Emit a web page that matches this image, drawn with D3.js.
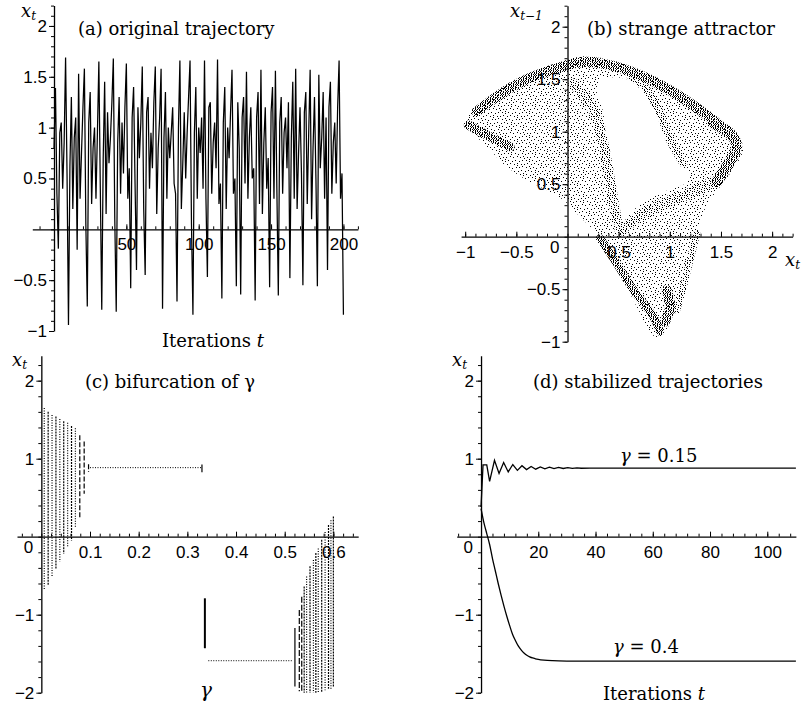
<!DOCTYPE html>
<html><head><meta charset="utf-8">
<script src="https://cdn.jsdelivr.net/npm/d3@7"></script>
<style>body{margin:0;background:#fff} svg{display:block}</style>
</head><body>
<script>
// ================= DATA =================
// (a) original trajectory x_t, t = 0..200
const trajA = [
 0.80,1.39,0.35,-0.19,0.95,1.05,0.40,0.85,1.69,0.55,
 -0.94,0.62,1.30,0.20,0.90,1.10,-0.20,1.53,0.30,0.75,
 1.20,1.58,0.05,-0.76,1.05,1.35,0.25,0.80,1.00,0.30,
 0.95,1.65,0.40,-0.79,0.70,1.45,0.15,1.15,0.65,0.90,
 1.25,1.68,0.10,-0.81,0.85,1.30,0.35,1.05,0.55,1.20,
 1.63,0.30,0.60,-0.58,1.10,1.40,0.45,-0.40,1.20,0.70,
 1.05,1.60,0.20,-0.45,1.15,1.30,0.40,0.95,0.60,1.25,
 1.60,0.15,0.80,1.10,1.58,-0.78,0.90,1.35,0.30,1.00,
 0.70,0.95,1.20,0.45,0.35,-0.71,1.00,1.66,0.20,0.65,
 1.15,0.50,0.95,1.30,1.66,0.05,-0.84,0.95,1.40,0.30,
 1.00,0.75,1.10,0.40,1.66,0.30,-0.47,1.20,1.25,0.35,
 0.85,1.05,0.60,1.67,0.25,0.45,-0.68,1.05,1.40,0.20,
 1.00,0.70,1.15,1.57,0.35,0.50,-0.56,1.25,0.80,-0.64,
 1.10,1.30,0.45,1.55,0.30,0.90,1.20,0.50,0.60,-0.70,
 1.10,1.35,0.25,1.57,0.15,0.85,1.20,0.40,0.70,-0.57,
 1.15,1.40,0.30,1.56,0.40,-0.65,1.05,1.30,0.35,0.95,
 1.10,0.60,1.25,-0.48,0.90,1.45,0.30,1.58,0.20,0.75,
 1.20,0.55,-0.55,1.15,1.35,0.25,0.95,1.57,0.10,0.80,
 1.30,0.50,-0.56,1.52,0.60,0.90,1.35,0.30,1.10,-0.40,
 1.20,1.45,0.35,0.85,1.05,0.45,1.20,1.66,0.30,0.55,
 -0.84
];
const ticksA_x = [50, 100, 150, 200];
const ticksA_y = [-1, -0.5, 0.5, 1, 1.5, 2];

// (b) strange attractor: outline of the point cloud (x_t, x_{t-1})
const attractorOutline = [
 [-1.00,1.096],[-0.888,1.238],[-0.725,1.365],[-0.529,1.476],[-0.334,1.572],[-0.138,1.635],
 [-0.008,1.683],[0.122,1.714],[0.253,1.714],[0.415,1.683],[0.578,1.635],[0.774,1.556],
 [0.969,1.460],[1.165,1.349],[1.360,1.206],[1.523,1.079],[1.637,0.984],[1.719,0.857],
 [1.686,0.746],[1.589,0.603],[1.491,0.476],[1.393,0.349],[1.311,0.191],[1.263,0.032],
 [1.214,-0.159],[1.149,-0.381],[1.083,-0.603],[1.018,-0.794],[0.937,-0.921],[0.872,-0.959],
 [0.790,-0.889],[0.709,-0.730],[0.611,-0.540],[0.513,-0.349],[0.415,-0.159],[0.318,0.000],
 [0.187,0.127],[0.057,0.254],[-0.041,0.349],[-0.204,0.444],[-0.399,0.540],[-0.595,0.667],
 [-0.758,0.826],[-0.888,0.953],[-0.986,1.048]
];
const attractorHole = [
 [0.318,1.492],[0.481,1.518],[0.644,1.476],[0.774,1.381],[0.855,1.238],[0.920,1.048],
 [1.002,0.857],[1.100,0.699],[1.197,0.588],[1.165,0.515],[0.969,0.438],[0.774,0.349],
 [0.611,0.222],[0.497,0.095],[0.448,0.286],[0.422,0.603],[0.383,0.921],[0.344,1.206],[0.285,1.397]
];
const bandOuterArc = [[-0.888,1.191],[-0.529,1.435],[-0.138,1.594],[0.187,1.667],[0.578,1.587],[0.969,1.413],[1.360,1.159],[1.621,0.953]];
const bandLeftEdge = [[-0.969,1.064],[-0.790,0.968],[-0.562,0.857]];
const bandRightTip = [[1.425,1.079],[1.589,0.984],[1.654,0.857],[1.556,0.667],[1.458,0.524]];
const bandBottomLeft = [[0.318,-0.016],[0.481,-0.254],[0.644,-0.508],[0.839,-0.762],[0.904,-0.904]];
const bandBottomKnot = [[0.969,-0.508],[1.002,-0.667],[0.953,-0.809]];
const bandBottomRight = [[1.263,0.032],[1.197,-0.222],[1.132,-0.476],[1.067,-0.698]];
const bandLower = [[0.513,0.064],[0.709,0.191],[0.937,0.318],[1.197,0.413],[1.425,0.524]];
const bandBeak = [[0.611,1.540],[0.774,1.397],[0.904,1.175],[1.002,0.921],[1.132,0.699]];
const bandDiagonal = [[0.057,1.460],[0.253,1.206],[0.350,0.889],[0.415,0.540],[0.481,0.159]];
const ticksB_x = [-1, -0.5, 0.5, 1, 1.5, 2];
const ticksB_y = [-1, -0.5, 0.5, 1, 1.5, 2];

// (c) bifurcation of gamma: columns of visited values
const bifLeftGamma  = [0.006,0.014,0.022,0.030,0.038,0.046,0.054,0.062,0.070,0.079,0.088,0.097];
const bifLeftTop    = [1.65,1.60,1.56,1.54,1.51,1.48,1.46,1.42,1.39,1.30,1.22,0.93];
const bifLeftBottom = [-0.69,-0.62,-0.52,-0.42,-0.32,-0.22,-0.14,-0.05,0.11,0.25,0.55,0.83];
const fixedHighGamma = [0.100, 0.330];
const fixedHighValue = 0.885;
const jumpGamma = 0.336, jumpTop = -0.79, jumpBottom = -1.43;
const fixedLowGamma = [0.343, 0.517];
const fixedLowValue = -1.59;
const bifRightGamma  = [0.521,0.530,0.535,0.540,0.545,0.552,0.559,0.564,0.569,0.576,0.583,0.590,0.595,0.600];
const bifRightTop    = [-1.17,-0.94,-0.77,-0.64,-0.51,-0.38,-0.30,-0.21,-0.15,-0.04,0.06,0.15,0.21,0.26];
const bifRightBottom = [-1.92,-1.98,-2.0,-2.0,-2.0,-2.0,-2.0,-2.0,-2.0,-2.0,-1.97,-1.95,-1.95,-1.93];
const ticksC_x = [0.1,0.2,0.3,0.4,0.5,0.6];
const ticksC_y = [-2,-1,1,2];

// (d) stabilized trajectories
const stab015_t = [0,0.7,2,3,4.7,6.3,7.9,9.5,11.1,12.7,14.3,15.9,17.5,19.1,20.7,22.3,23.9,25.5,27.1,28.7,30.3,31.9,33.5,35,38,45,110];
const stab015_x = [0.38,0.92,0.92,0.71,0.98,0.81,0.95,0.83,0.925,0.85,0.91,0.86,0.90,0.865,0.895,0.87,0.89,0.872,0.887,0.874,0.884,0.876,0.882,0.877,0.88,0.878,0.878];
const stab04_t = [0,1,2,3,4,5,6,7,8,9,10,11,12,13,14,15,16,17,18,19,20,22,25,30,35,110];
const stab04_x = [0.36,0.18,0.04,-0.10,-0.28,-0.44,-0.60,-0.75,-0.89,-1.02,-1.14,-1.25,-1.33,-1.40,-1.45,-1.49,-1.52,-1.54,-1.555,-1.565,-1.573,-1.583,-1.590,-1.594,-1.595,-1.595];
const ticksD_x = [20,40,60,80,100];
const ticksD_y = [-2,-1,1,2];

// ================= DRAWING =================
const W = 804, H = 710;
const SANS = "'Liberation Sans', Arial, sans-serif";
const SERIF = "'DejaVu Serif', serif";
const TICK_FS = 17, TEXT_FS = 18;
const svg = d3.select("body").append("svg").attr("width", W).attr("height", H);
svg.append("rect").attr("width", W).attr("height", H).attr("fill", "#fff");
const fmt = d3.format("");

const defs = svg.append("defs");
function stipple(id, n, size) {
  const p = defs.append("pattern").attr("id", id).attr("patternUnits", "userSpaceOnUse")
    .attr("width", size).attr("height", size);
  const g1 = 0.7548776662466927, g2 = 0.5698402909980532;
  for (let i = 0; i < n; i++) {
    const px = Math.floor(((0.31 + i * g1) % 1) * size), py = Math.floor(((0.17 + i * g2) % 1) * size);
    p.append("rect").attr("x", px).attr("y", py).attr("width", 1).attr("height", 1).attr("fill", "#000");
  }
}
stipple("stLight", 56, 24);
stipple("stMed", 125, 24);
stipple("stDense", 260, 24);

function axes(g, o) {
  const y0 = o.y(0), x0 = o.x(0);
  const xa = g.append("g").attr("transform", `translate(0,${y0})`);
  xa.call(d3.axisTop(o.x).tickValues(o.xMinor).tickSize(3).tickSizeOuter(0).tickFormat(""));
  xa.append("g").call(d3.axisTop(o.x).tickValues(o.xMajor).tickSize(5).tickSizeOuter(0).tickFormat(""))
    .call(s => s.select(".domain").remove());
  xa.append("g").call(d3.axisBottom(o.x).tickValues(o.xMajor).tickSize(0).tickPadding(9).tickFormat(fmt))
    .call(s => s.select(".domain").remove());
  const ya = g.append("g").attr("transform", `translate(${x0},0)`);
  ya.call(d3.axisLeft(o.y).tickValues(o.yMinor).tickSize(3).tickSizeOuter(0).tickFormat(""));
  ya.append("g").call(d3.axisLeft(o.y).tickValues(o.yMajor).tickSize(5).tickPadding(2).tickFormat(fmt))
    .call(s => s.select(".domain").remove());
  g.selectAll(".domain").attr("stroke", "#000").attr("stroke-width", 1.3);
  g.selectAll(".tick line").attr("stroke", "#000").attr("stroke-width", 1);
  g.selectAll(".tick text").attr("font-family", SANS).attr("font-size", TICK_FS).attr("fill", "#000");
  g.selectAll("g").attr("font-family", null).attr("font-size", null);
  if (o.zero) {
    g.append("text").attr("x", x0 - 8).attr("y", y0 + 16).attr("text-anchor", "end")
      .attr("font-family", SANS).attr("font-size", TICK_FS).text("0");
  }
}
function mathLabel(g, x, y, sub) {
  const t = g.append("text").attr("x", x).attr("y", y).attr("font-family", SERIF).attr("font-size", 18).attr("font-style", "italic");
  t.append("tspan").text("x");
  t.append("tspan").attr("dy", 3).attr("font-size", 12).text(sub);
}
function title(g, x, y, txt) {
  g.append("text").attr("x", x).attr("y", y).attr("font-family", SERIF).attr("font-size", TEXT_FS).text(txt);
}
const rangeStep = (a, b, s) => d3.range(Math.round(a / s), Math.round(b / s) + 1).map(k => +(k * s).toFixed(6));

// ---------- panel (a) ----------
{
  const g = svg.append("g");
  const x = d3.scaleLinear().domain([-15, 210]).range([32.3, 357.9]);
  const y = d3.scaleLinear().domain([-1, 2.2]).range([331, 5.6]);
  axes(g, { x, y, xMinor: rangeStep(-10, 210, 10), xMajor: ticksA_x, yMinor: rangeStep(-1, 2.2, 0.1), yMajor: ticksA_y });
  g.append("path").datum(trajA)
    .attr("d", d3.line().x((d, i) => x(i)).y(d => y(d)))
    .attr("fill", "none").attr("stroke", "#000").attr("stroke-width", 1.25);
  title(g, 78, 35, "(a) original trajectory");
  mathLabel(g, 21, 17, "t");
  g.append("text").attr("x", 162).attr("y", 347).attr("font-family", SERIF).attr("font-size", TEXT_FS)
    .call(t => { t.append("tspan").text("Iterations "); t.append("tspan").attr("font-style", "italic").text("t"); });
}

// ---------- panel (b) ----------
{
  const g = svg.append("g");
  const x = d3.scaleLinear().domain([-1.04, 2.2]).range([461.1, 792.6]);
  const y = d3.scaleLinear().domain([-1, 2.2]).range([341.7, 5.7]);
  axes(g, { x, y, xMinor: rangeStep(-1, 2.2, 0.1), xMajor: ticksB_x, yMinor: rangeStep(-1, 2.2, 0.1), yMajor: ticksB_y, zero: true });
  const poly = d3.line().x(d => x(d[0])).y(d => y(d[1])).curve(d3.curveCatmullRomClosed);
  g.append("path").attr("d", poly(attractorOutline) + poly(attractorHole))
    .attr("fill", "url(#stLight)").attr("fill-rule", "evenodd");
  const band = d3.line().x(d => x(d[0])).y(d => y(d[1])).curve(d3.curveCatmullRom);
  const bands = [
    [bandOuterArc, "stDense", 10], [bandLeftEdge, "stDense", 9], [bandRightTip, "stDense", 11],
    [bandBottomLeft, "stDense", 8], [bandBottomKnot, "stDense", 10], [bandBottomRight, "stMed", 7],
    [bandLower, "stMed", 11], [bandBeak, "stMed", 8], [bandDiagonal, "stMed", 10]
  ];
  bands.forEach(([pts, pat, w]) => {
    g.append("path").attr("d", band(pts)).attr("fill", "none").attr("stroke", `url(#${pat})`)
      .attr("stroke-width", w).attr("stroke-linecap", "round").attr("stroke-linejoin", "round");
  });
  title(g, 587, 35, "(b) strange attractor");
  mathLabel(g, 510, 17, "t−1");
  mathLabel(g, 785, 266, "t");
}

// ---------- panel (c) ----------
{
  const g = svg.append("g");
  const x = d3.scaleLinear().domain([-0.05, 0.651]).range([17, 358.2]);
  const y = d3.scaleLinear().domain([-2, 2.32]).range([692.7, 355.7]);
  axes(g, { x, y, xMinor: rangeStep(-0.04, 0.64, 0.02), xMajor: ticksC_x, yMinor: rangeStep(-2, 2.2, 0.2), yMajor: ticksC_y, zero: true });
  const col = (gam, top, bot, dash, w) => g.append("line")
    .attr("x1", x(gam)).attr("x2", x(gam)).attr("y1", y(top)).attr("y2", y(bot))
    .attr("stroke", "#000").attr("stroke-width", w).attr("stroke-dasharray", dash);
  bifLeftGamma.forEach((gm, i) => col(gm, bifLeftTop[i], bifLeftBottom[i], i >= 9 ? "5,2" : (i % 2 ? "2,1" : "1,1.5"), 1.2));
  g.append("line").attr("x1", x(fixedHighGamma[0])).attr("x2", x(fixedHighGamma[1]))
    .attr("y1", y(fixedHighValue)).attr("y2", y(fixedHighValue))
    .attr("stroke", "#000").attr("stroke-width", 1).attr("stroke-dasharray", "1,1.5");
  col(fixedHighGamma[1], fixedHighValue + 0.04, fixedHighValue - 0.06, null, 1.2);
  col(jumpGamma, jumpTop, jumpBottom, null, 2);
  g.append("line").attr("x1", x(fixedLowGamma[0])).attr("x2", x(fixedLowGamma[1]))
    .attr("y1", y(fixedLowValue)).attr("y2", y(fixedLowValue))
    .attr("stroke", "#000").attr("stroke-width", 1).attr("stroke-dasharray", "1,1.5");
  bifRightGamma.forEach((gm, i) => col(gm, bifRightTop[i], bifRightBottom[i], i === 0 ? null : (i < 3 ? "6,2" : (i % 2 ? "2,1" : "1,1.5")), 1.2));
  title(g, 85, 388, "(c) bifurcation of γ");
  mathLabel(g, 12, 366, "t");
  g.append("text").attr("x", 206).attr("y", 697).attr("text-anchor", "middle")
    .attr("font-family", SERIF).attr("font-style", "italic").attr("font-size", 20).text("γ");
}

// ---------- panel (d) ----------
{
  const g = svg.append("g");
  const x = d3.scaleLinear().domain([-8.5, 110]).range([456.7, 795.9]);
  const y = d3.scaleLinear().domain([-2, 2.32]).range([692.7, 355.7]);
  axes(g, { x, y, xMinor: rangeStep(-8, 108, 4), xMajor: ticksD_x, yMinor: rangeStep(-2, 2.2, 0.2), yMajor: ticksD_y, zero: true });
  g.append("path").datum(d3.zip(stab015_t, stab015_x))
    .attr("d", d3.line().x(d => x(d[0])).y(d => y(d[1])))
    .attr("fill", "none").attr("stroke", "#000").attr("stroke-width", 1.3);
  g.append("path").datum(d3.zip(stab04_t, stab04_x))
    .attr("d", d3.line().x(d => x(d[0])).y(d => y(d[1])).curve(d3.curveMonotoneX))
    .attr("fill", "none").attr("stroke", "#000").attr("stroke-width", 1.3);
  title(g, 533, 388, "(d) stabilized trajectories");
  mathLabel(g, 452, 366, "t");
  const gl = (xx, yy, val) => g.append("text").attr("x", xx).attr("y", yy).attr("font-family", SERIF).attr("font-size", TEXT_FS)
    .call(t => { t.append("tspan").attr("font-style", "italic").text("γ"); t.append("tspan").text(" = " + val); });
  gl(620, 462, "0.15");
  gl(613, 653, "0.4");
  g.append("text").attr("x", 603).attr("y", 700).attr("font-family", SERIF).attr("font-size", TEXT_FS)
    .call(t => { t.append("tspan").text("Iterations "); t.append("tspan").attr("font-style", "italic").text("t"); });
}
</script>
</body></html>
